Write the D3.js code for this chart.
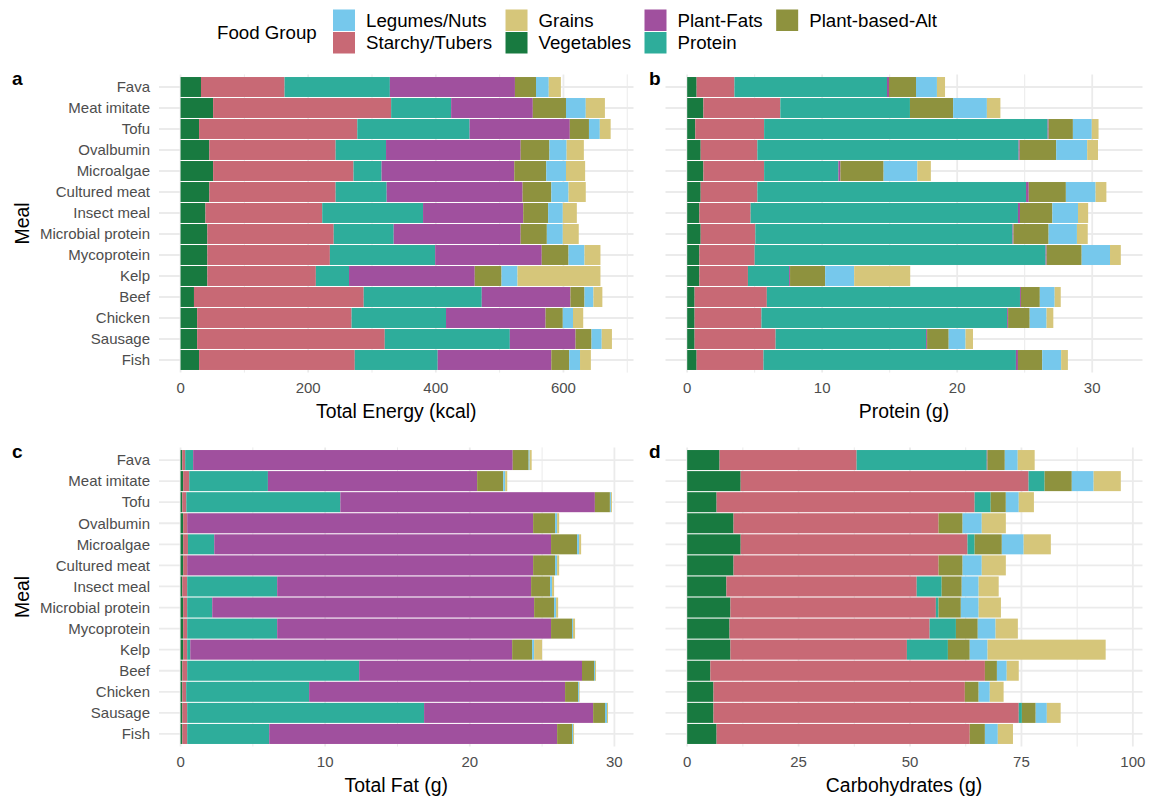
<!DOCTYPE html><head><meta charset="utf-8">
<title>meal composition</title>
<style type="text/css">
body { margin: 0; background: white; }
svg { display: block; font-family: "Liberation Sans", Arial, sans-serif; }
.grid line { stroke: #EBEBEB; }
.tick-label { fill: #4D4D4D; font-size: 15px; }
.axis-title { fill: black; font-size: 19.4px; }
.panel-tag { font-size: 19px; font-weight: bold; }
.legend text { font-size: 18.7px; fill: black; }
</style>
<script type="text/javascript" src="https://cdn.jsdelivr.net/npm/d3@7"></script>
</head><body>
<div id="chart"></div>
<script type="text/javascript">

// meals, top to bottom
var meals = ["Fava", "Meat imitate", "Tofu", "Ovalbumin", "Microalgae", "Cultured meat",
  "Insect meal", "Microbial protein", "Mycoprotein", "Kelp", "Beef", "Chicken", "Sausage", "Fish"];

// stacking order, left to right
var groups = ["Vegetables", "Starchy/Tubers", "Protein", "Plant-Fats", "Plant-based-Alt", "Legumes/Nuts", "Grains"];

// legend order (filled column by column, 2 rows)
var legendOrder = ["Legumes/Nuts", "Starchy/Tubers", "Grains", "Vegetables", "Plant-Fats", "Protein", "Plant-based-Alt"];

var groupColors = ["#187A40", "#C86975", "#2EAD9B", "#A0509E", "#8E923E", "#76C8EC", "#D6C67A"];

// one row per meal, values in the order of `groups`
var energy = [
  [32, 131, 165, 196, 33, 20, 19],
  [51, 279, 94, 128, 52, 31, 30],
  [29, 248, 176, 157, 30, 17, 17],
  [45, 198, 79, 211, 45, 27, 27],
  [51, 220, 44, 208, 50, 31, 30],
  [45, 198, 80, 213, 45, 27, 27],
  [39, 183, 158, 157, 39, 23, 22],
  [42, 198, 94, 199, 41, 25, 25],
  [42, 192, 165, 167, 42, 25, 25],
  [42, 170, 52, 197, 42, 25, 130],
  [21, 266, 185, 139, 22, 14, 14],
  [26, 242, 148, 156, 27, 16, 16],
  [26, 294, 196, 103, 25, 16, 16],
  [29, 244, 130, 178, 28, 17, 17]
];

var protein = [
  [0.7, 2.8, 11.3, 0.15, 2.0, 1.55, 0.6],
  [1.2, 5.7, 9.6, 0, 3.2, 2.5, 1.0],
  [0.6, 5.1, 21.0, 0.07, 1.8, 1.4, 0.5],
  [1.0, 4.2, 19.35, 0.08, 2.7, 2.3, 0.8],
  [1.2, 4.5, 5.5, 0.15, 3.2, 2.5, 1.0],
  [1.0, 4.2, 19.9, 0.2, 2.75, 2.2, 0.8],
  [0.9, 3.8, 19.8, 0.15, 2.4, 1.9, 0.75],
  [1.0, 4.05, 19.05, 0.07, 2.6, 2.1, 0.8],
  [0.9, 4.1, 21.55, 0.07, 2.6, 2.1, 0.8],
  [0.9, 3.6, 3.05, 0.07, 2.6, 2.15, 4.15],
  [0.55, 5.35, 18.75, 0.07, 1.4, 1.1, 0.45],
  [0.55, 4.95, 18.2, 0.07, 1.6, 1.25, 0.5],
  [0.55, 6.0, 11.15, 0.07, 1.6, 1.25, 0.55],
  [0.7, 4.95, 18.7, 0.15, 1.8, 1.4, 0.5]
];

var fat = [
  [0.12, 0.2, 0.55, 22.1, 1.1, 0.07, 0.14],
  [0.18, 0.42, 5.44, 14.47, 1.8, 0.14, 0.14],
  [0.12, 0.28, 10.65, 17.6, 1.04, 0.07, 0.07],
  [0.18, 0.28, 0, 23.92, 1.52, 0.14, 0.14],
  [0.18, 0.33, 1.82, 23.29, 1.8, 0.14, 0.14],
  [0.18, 0.28, 0, 23.92, 1.52, 0.14, 0.14],
  [0.12, 0.34, 6.22, 17.56, 1.31, 0.14, 0.14],
  [0.18, 0.28, 1.73, 22.26, 1.38, 0.14, 0.14],
  [0.18, 0.28, 6.22, 18.94, 1.45, 0.07, 0.14],
  [0.18, 0.28, 0.21, 22.26, 1.38, 0.14, 0.55],
  [0.12, 0.34, 11.89, 15.41, 0.83, 0.07, 0.07],
  [0.12, 0.27, 8.5, 17.7, 0.9, 0.07, 0.04],
  [0.12, 0.34, 16.38, 11.69, 0.82, 0.14, 0.07],
  [0.12, 0.34, 5.67, 19.91, 1.03, 0.07, 0.07]
];

var carbs = [
  [7.26, 30.76, 29.2, 0.15, 3.9, 2.9, 3.8],
  [12.0, 64.6, 3.6, 0, 6.1, 4.9, 6.1],
  [6.6, 57.9, 3.6, 0, 3.4, 2.9, 3.4],
  [10.4, 46.0, 0, 0, 5.4, 4.3, 5.4],
  [12.0, 50.9, 1.6, 0, 6.1, 4.9, 6.1],
  [10.4, 46.0, 0, 0, 5.4, 4.3, 5.4],
  [8.8, 42.7, 5.6, 0, 4.5, 3.8, 4.5],
  [9.7, 46.1, 0.6, 0, 5.0, 4.0, 5.0],
  [9.5, 44.9, 5.9, 0, 4.9, 4.0, 5.0],
  [9.7, 39.6, 9.2, 0, 4.9, 4.0, 26.5],
  [5.2, 61.6, 0, 0, 2.7, 2.2, 2.7],
  [5.9, 56.4, 0, 0, 3.1, 2.5, 3.1],
  [5.9, 68.5, 0.7, 0, 3.1, 2.5, 3.1],
  [6.6, 56.8, 0, 0, 3.4, 2.9, 3.4]
];

var energyTicks = [0, 200, 400, 600];
var proteinTicks = [0, 10, 20, 30];
var fatTicks = [0, 10, 20, 30];
var carbTicks = [0, 25, 50, 75, 100];

var W = 1149, H = 797;
var svg = d3.select("#chart").append("svg").attr("width", W).attr("height", H);
svg.append("rect").attr("width", W).attr("height", H).attr("fill", "white");

var color = d3.scaleOrdinal().domain(groups).range(groupColors);
var stack = d3.stack().keys(d3.range(groups.length));

var panels = [
  {tag: "a", data: energy, ticks: energyTicks, title: "Total Energy (kcal)", left: 159, right: 633.5, top: 74.4, bottom: 372.6, ylabels: true},
  {tag: "b", data: protein, ticks: proteinTicks, title: "Protein (g)", left: 665.5, right: 1142.5, top: 74.4, bottom: 372.6, ylabels: false},
  {tag: "c", data: fat, ticks: fatTicks, title: "Total Fat (g)", left: 159, right: 633.5, top: 447.4, bottom: 746.6, ylabels: true},
  {tag: "d", data: carbs, ticks: carbTicks, title: "Carbohydrates (g)", left: 665.5, right: 1142.5, top: 447.4, bottom: 746.6, ylabels: false}
];

panels.forEach(function(p) {
  var series = stack(p.data);
  var xmax = d3.max(p.data, function(r) { return d3.sum(r); });
  var pad = xmax * 0.05;
  var x = d3.scaleLinear().domain([-pad, xmax + pad]).range([p.left, p.right]);
  var y = d3.scaleBand().domain(meals).range([p.top, p.bottom]).paddingInner(0.05).paddingOuter(0.125);

  var g = svg.append("g");
  var grid = g.append("g").attr("class", "grid");

  // minor grid halfway between major ticks
  var step = p.ticks[1] - p.ticks[0];
  var minor = [];
  for (var v = p.ticks[0] - step / 2; v <= x.domain()[1]; v += step) {
    if (v >= x.domain()[0]) minor.push(v);
  }
  grid.selectAll("line.minor").data(minor).join("line").attr("class", "minor")
    .attr("x1", function(d) { return x(d); }).attr("x2", function(d) { return x(d); })
    .attr("y1", p.top).attr("y2", p.bottom).attr("stroke-width", 1);
  grid.selectAll("line.majorx").data(p.ticks).join("line").attr("class", "majorx")
    .attr("x1", function(d) { return x(d); }).attr("x2", function(d) { return x(d); })
    .attr("y1", p.top).attr("y2", p.bottom).attr("stroke-width", 1.8);
  grid.selectAll("line.majory").data(meals).join("line").attr("class", "majory")
    .attr("x1", p.left).attr("x2", p.right)
    .attr("y1", function(d) { return y(d) + y.bandwidth() / 2; })
    .attr("y2", function(d) { return y(d) + y.bandwidth() / 2; })
    .attr("stroke-width", 1.8);

  // stacked bars
  g.selectAll("g.layer").data(series).join("g").attr("class", "layer")
    .attr("fill", function(s) { return color(groups[s.key]); })
    .selectAll("rect").data(function(s) { return s; }).join("rect")
    .attr("x", function(d) { return x(d[0]); })
    .attr("width", function(d) { return Math.max(0, x(d[1]) - x(d[0])); })
    .attr("y", function(d, i) { return y(meals[i]); })
    .attr("height", y.bandwidth());

  // x tick labels
  g.selectAll("text.xtick").data(p.ticks).join("text").attr("class", "tick-label xtick")
    .attr("x", function(d) { return x(d); })
    .attr("y", p.bottom + 15.5).attr("dy", "0.35em")
    .attr("text-anchor", "middle")
    .text(function(d) { return d; });

  if (p.ylabels) {
    g.selectAll("text.ytick").data(meals).join("text").attr("class", "tick-label ytick")
      .attr("x", 150)
      .attr("y", function(d) { return y(d) + y.bandwidth() / 2; }).attr("dy", "0.35em")
      .attr("text-anchor", "end")
      .text(function(d) { return d; });
    g.append("text").attr("class", "axis-title")
      .attr("transform", "translate(29," + ((p.top + p.bottom) / 2) + ") rotate(-90)")
      .attr("text-anchor", "middle")
      .text("Meal");
  }

  g.append("text").attr("class", "axis-title")
    .attr("x", (p.left + p.right) / 2).attr("y", p.bottom + 45.7)
    .attr("text-anchor", "middle")
    .text(p.title);

  g.append("text").attr("class", "panel-tag")
    .attr("x", p.ylabels ? 12 : 649).attr("y", p.top + 10.6)
    .text(p.tag);
});

// legend
var legend = svg.append("g").attr("class", "legend");
legend.append("text").attr("x", 217).attr("y", 32).attr("dy", "0.35em").text("Food Group");

var keyW = 22, keyH = 21.5, rowY = [9.5, 32];
var colX = 333;
for (var c = 0; c < Math.ceil(legendOrder.length / 2); c++) {
  var items = legendOrder.slice(c * 2, c * 2 + 2);
  var maxW = 0;
  items.forEach(function(name, r) {
    legend.append("rect").attr("x", colX).attr("y", rowY[r])
      .attr("width", keyW).attr("height", keyH).attr("fill", color(name));
    var t = legend.append("text").attr("x", colX + keyW + 11)
      .attr("y", rowY[r] + keyH / 2).attr("dy", "0.35em").text(name);
    maxW = Math.max(maxW, t.node().getComputedTextLength());
  });
  colX = colX + keyW + 11 + maxW + 13.5;
}

</script>
</body></html>
